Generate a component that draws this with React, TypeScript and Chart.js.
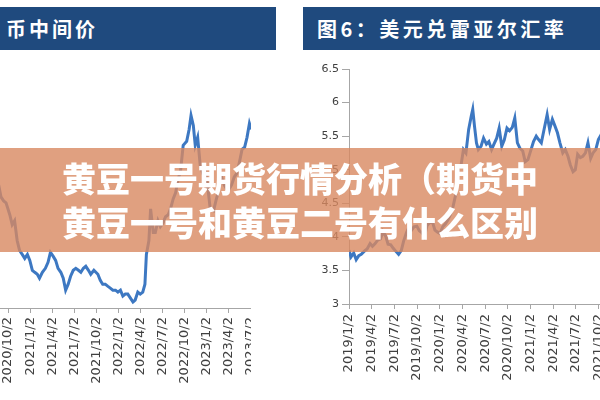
import React, { useEffect, useRef } from 'react';
import { Chart, registerables } from 'chart.js';
Chart.register(...registerables);

// ---------- data ----------
const leftTitle = '币中间价';
const rightTitle = '图6：美元兑雷亚尔汇率';
const bannerLines = ['黄豆一号期货行情分析（期货中', '黄豆一号和黄豆二号有什么区别'];

// RMB central parity (USD/CNY)
const cnyDates = [
  '2020/8/3', '2020/8/13', '2020/8/24', '2020/9/3', '2020/9/14', '2020/9/24', '2020/10/9', '2020/10/19', '2020/10/29',
  '2020/11/9', '2020/11/19', '2020/11/30', '2020/12/10', '2020/12/21', '2020/12/31', '2021/1/11', '2021/1/21', '2021/2/1',
  '2021/2/10', '2021/2/22', '2021/3/4', '2021/3/15', '2021/3/25', '2021/4/6', '2021/4/16', '2021/4/26', '2021/5/7',
  '2021/5/17', '2021/5/27', '2021/6/7', '2021/6/17', '2021/6/28', '2021/7/8', '2021/7/19', '2021/7/29', '2021/8/9',
  '2021/8/19', '2021/8/30', '2021/9/9', '2021/9/22', '2021/10/8', '2021/10/18', '2021/10/28', '2021/11/8', '2021/11/18',
  '2021/11/29', '2021/12/9', '2021/12/20', '2021/12/30', '2022/1/10', '2022/1/20', '2022/1/30', '2022/2/10', '2022/2/21',
  '2022/3/1', '2022/3/10', '2022/3/21', '2022/3/31', '2022/4/11', '2022/4/20', '2022/4/26', '2022/5/6', '2022/5/13',
  '2022/5/24', '2022/6/2', '2022/6/13', '2022/6/23', '2022/7/4', '2022/7/14', '2022/7/25', '2022/8/4', '2022/8/15',
  '2022/8/25', '2022/9/5', '2022/9/15', '2022/9/26', '2022/10/10', '2022/10/20', '2022/10/28', '2022/11/7', '2022/11/15',
  '2022/11/25', '2022/12/5', '2022/12/15', '2022/12/26', '2023/1/5', '2023/1/16', '2023/1/30', '2023/2/9', '2023/2/20',
  '2023/3/2', '2023/3/13', '2023/3/23', '2023/4/3', '2023/4/13', '2023/4/24', '2023/5/5', '2023/5/16', '2023/5/26',
  '2023/6/6', '2023/6/16', '2023/6/26', '2023/7/3',
];
const cnyValues = [
  6.98, 6.94, 6.90, 6.84, 6.82, 6.81, 6.75, 6.70, 6.72,
  6.62, 6.57, 6.55, 6.53, 6.55, 6.52, 6.47, 6.46, 6.45,
  6.43, 6.46, 6.48, 6.51, 6.56, 6.54, 6.52, 6.48, 6.46,
  6.43, 6.37, 6.40, 6.44, 6.47, 6.48, 6.47, 6.46, 6.48,
  6.49, 6.47, 6.45, 6.47, 6.45, 6.42, 6.40, 6.40, 6.39,
  6.38, 6.37, 6.37, 6.36, 6.37, 6.34, 6.35, 6.35, 6.33,
  6.31, 6.32, 6.36, 6.35, 6.36, 6.40, 6.55, 6.62, 6.78,
  6.66, 6.66, 6.72, 6.69, 6.71, 6.74, 6.75, 6.78, 6.83,
  6.86, 6.93, 6.97, 7.10, 7.12, 7.18, 7.25, 7.20, 7.10,
  7.14, 7.00, 6.96, 6.97, 6.90, 6.78, 6.77, 6.82, 6.87,
  6.94, 6.90, 6.88, 6.88, 6.90, 6.94, 6.96, 7.02, 7.08,
  7.09, 7.14, 7.21, 7.18,
];
const cnyTickLabels = [
  '2020/10/2', '2021/1/2', '2021/4/2', '2021/7/2', '2021/10/2', '2022/1/2',
  '2022/4/2', '2022/7/2', '2022/10/2', '2023/1/2', '2023/4/2', '2023/7/2',
];

// USD/BRL
const brlDates = [
  '2019/1/2', '2019/1/10', '2019/1/21', '2019/1/31', '2019/2/11', '2019/2/21', '2019/3/4', '2019/3/14', '2019/3/26',
  '2019/4/5', '2019/4/16', '2019/4/26', '2019/5/7', '2019/5/17', '2019/5/28', '2019/6/7', '2019/6/18', '2019/6/28',
  '2019/7/9', '2019/7/19', '2019/7/30', '2019/8/9', '2019/8/20', '2019/8/30', '2019/9/10', '2019/9/20', '2019/10/1',
  '2019/10/11', '2019/10/22', '2019/11/1', '2019/11/12', '2019/11/22', '2019/12/3', '2019/12/13', '2019/12/24', '2020/1/3',
  '2020/1/14', '2020/1/24', '2020/2/4', '2020/2/14', '2020/2/25', '2020/3/6', '2020/3/16', '2020/3/26', '2020/4/6',
  '2020/4/16', '2020/4/27', '2020/5/7', '2020/5/13', '2020/5/20', '2020/5/28', '2020/6/5', '2020/6/16', '2020/6/26',
  '2020/7/7', '2020/7/17', '2020/7/28', '2020/8/7', '2020/8/18', '2020/8/28', '2020/9/8', '2020/9/18', '2020/9/29',
  '2020/10/9', '2020/10/20', '2020/10/30', '2020/11/10', '2020/11/20', '2020/12/1', '2020/12/11', '2020/12/22', '2021/1/4',
  '2021/1/14', '2021/1/25', '2021/2/4', '2021/2/15', '2021/2/25', '2021/3/8', '2021/3/18', '2021/3/29', '2021/4/8',
  '2021/4/19', '2021/4/29', '2021/5/10', '2021/5/20', '2021/5/31', '2021/6/10', '2021/6/21', '2021/6/30', '2021/7/9',
  '2021/7/20', '2021/7/30', '2021/8/10', '2021/8/20', '2021/8/31', '2021/9/10', '2021/9/21', '2021/10/1', '2021/10/12',
  '2021/10/22', '2021/11/3', '2021/11/16', '2021/12/1', '2021/12/15', '2022/1/3',
];
const brlValues = [
  3.80, 3.70, 3.76, 3.66, 3.72, 3.74, 3.79, 3.82, 3.90,
  3.86, 3.90, 3.95, 3.97, 4.08, 4.01, 3.89, 3.88, 3.83,
  3.78, 3.74, 3.80, 3.94, 4.06, 4.14, 4.10, 4.15, 4.16,
  4.09, 4.06, 4.00, 4.17, 4.21, 4.22, 4.10, 4.07, 4.05,
  4.15, 4.19, 4.25, 4.33, 4.45, 4.64, 5.05, 5.05, 5.30,
  5.25, 5.60, 5.80, 5.90, 5.65, 5.40, 5.30, 5.35, 5.47,
  5.38, 5.42, 5.30, 5.38, 5.47, 5.62, 5.35, 5.44, 5.62,
  5.58, 5.63, 5.77, 5.40, 5.32, 5.28, 5.12, 5.15, 5.30,
  5.42, 5.50, 5.45, 5.40, 5.58, 5.82, 5.60, 5.75, 5.66,
  5.55, 5.40, 5.25, 5.30, 5.20, 5.07, 4.97, 5.00, 5.23,
  5.18, 5.20, 5.25, 5.40, 5.17, 5.25, 5.30, 5.45, 5.52,
  5.62, 5.60, 5.48, 5.65, 5.68, 5.68,
];
const brlTickLabels = [
  '2019/1/2', '2019/4/2', '2019/7/2', '2019/10/2', '2020/1/2', '2020/4/2', '2020/7/2',
  '2020/10/2', '2021/1/2', '2021/4/2', '2021/7/2', '2021/10/2', '2022/1/2', '2022/4/2',
];
const brlYMin = 3;
const brlYMax = 6.5;
const brlYStep = 0.5;

// ---------- helpers ----------
const toMonth = (s: string) => {
  const [y, m, d] = s.split('/').map(Number);
  return (y - 2019) * 12 + (m - 1) + (d - 2) / 30.5;
};

const LINE = '#3D78C2';
const AXIS = '#A6A6A6';
const TEXT = '#404040';

function makeXScale(labels: string[], min: number, max: number, height: number, pad: number) {
  return {
    type: 'linear',
    min,
    max,
    afterBuildTicks: (axis: any) => {
      axis.ticks = labels.map((l) => ({ value: toMonth(l) }));
    },
    afterFit: (s: any) => {
      s.height = height;
      s.paddingLeft = 0;
      s.paddingRight = 0;
    },
    ticks: {
      autoSkip: false,
      minRotation: 90,
      maxRotation: 90,
      padding: pad,
      color: TEXT,
      font: { family: 'DejaVu Sans', size: 13 },
      callback: (_v: any, i: number) => labels[i],
    },
    grid: { display: true, drawOnChartArea: false, drawTicks: true, tickLength: 5, color: AXIS },
    border: { display: true, color: AXIS, width: 1 },
  };
}

function LeftChart() {
  const ref = useRef<HTMLCanvasElement>(null);
  useEffect(() => {
    const data = cnyDates.map((d, i) => ({ x: toMonth(d), y: cnyValues[i] }));
    const chart = new Chart(ref.current!, {
      type: 'line',
      data: { datasets: [{ data, borderColor: LINE, borderWidth: 3, pointRadius: 0, tension: 0 }] },
      options: {
        animation: false,
        responsive: false,
        maintainAspectRatio: false,
        layout: { padding: { top: 58, left: 0, right: 0, bottom: 0 } },
        plugins: { legend: { display: false }, tooltip: { enabled: false } },
        scales: {
          x: makeXScale(cnyTickLabels, 19.9, 54, 92, 4) as any,
          y: { display: false, min: 6.28, max: 7.54 },
        },
      },
    });
    return () => chart.destroy();
  }, []);
  return <canvas ref={ref} width={251} height={400} style={{ position: 'absolute', left: 0, top: 0 }} />;
}

function RightChart() {
  const ref = useRef<HTMLCanvasElement>(null);
  useEffect(() => {
    const data = brlDates.map((d, i) => ({ x: toMonth(d), y: brlValues[i] }));
    const chart = new Chart(ref.current!, {
      type: 'line',
      data: { datasets: [{ data, borderColor: LINE, borderWidth: 3, pointRadius: 0, tension: 0 }] },
      options: {
        animation: false,
        responsive: false,
        maintainAspectRatio: false,
        layout: { padding: { top: 69, left: 0, right: 0, bottom: 0 } },
        plugins: { legend: { display: false }, tooltip: { enabled: false } },
        scales: {
          x: makeXScale(brlTickLabels, 0, 39, 96, 5) as any,
          y: {
            min: brlYMin,
            max: brlYMax,
            afterFit: (s: any) => {
              s.width = 49;
              s.paddingTop = 0;
              s.paddingBottom = 0;
            },
            ticks: {
              stepSize: brlYStep,
              padding: 3,
              color: TEXT,
              font: { family: 'DejaVu Sans', size: 11 },
              callback: (v: any) => String(v),
            },
            grid: { display: true, drawOnChartArea: false, drawTicks: true, tickLength: 7, color: AXIS },
            border: { display: true, color: AXIS, width: 1 },
          },
        },
      },
    });
    return () => chart.destroy();
  }, []);
  return <canvas ref={ref} width={344} height={400} style={{ position: 'absolute', left: 300, top: 0 }} />;
}

const headerStyle: React.CSSProperties = {
  position: 'absolute',
  top: 7,
  height: 43,
  background: '#1F4A7E',
  color: '#fff',
  fontFamily: '"Noto Sans CJK SC", sans-serif',
  fontWeight: 700,
  fontSize: 20,
  letterSpacing: 3,
  lineHeight: '43px',
  whiteSpace: 'nowrap',
  overflow: 'hidden',
};

export default function App() {
  return (
    <div style={{ position: 'fixed', left: 0, top: 0, width: 600, height: 400, overflow: 'hidden', background: '#fff' }}>
      <div style={{ ...headerStyle, left: 0, width: 276, paddingLeft: 6, boxSizing: 'border-box' }}>{leftTitle}</div>
      <div style={{ ...headerStyle, left: 303, width: 297, paddingLeft: 14, boxSizing: 'border-box', letterSpacing: 3.5 }}>{rightTitle}</div>
      <LeftChart />
      <RightChart />
      <div
        style={{
          position: 'absolute',
          left: 0,
          top: 148,
          width: 600,
          height: 104,
          background: 'rgba(216,136,96,0.8)',
          color: '#fff',
          fontFamily: '"Noto Sans CJK SC", sans-serif',
          fontWeight: 900,
          fontSize: 34,
          lineHeight: '44px',
          textAlign: 'center',
          paddingTop: 8,
          boxSizing: 'border-box',
          whiteSpace: 'nowrap',
        }}
      >
        {bannerLines.map((l, i) => (
          <div key={i}>{l}</div>
        ))}
      </div>
    </div>
  );
}
